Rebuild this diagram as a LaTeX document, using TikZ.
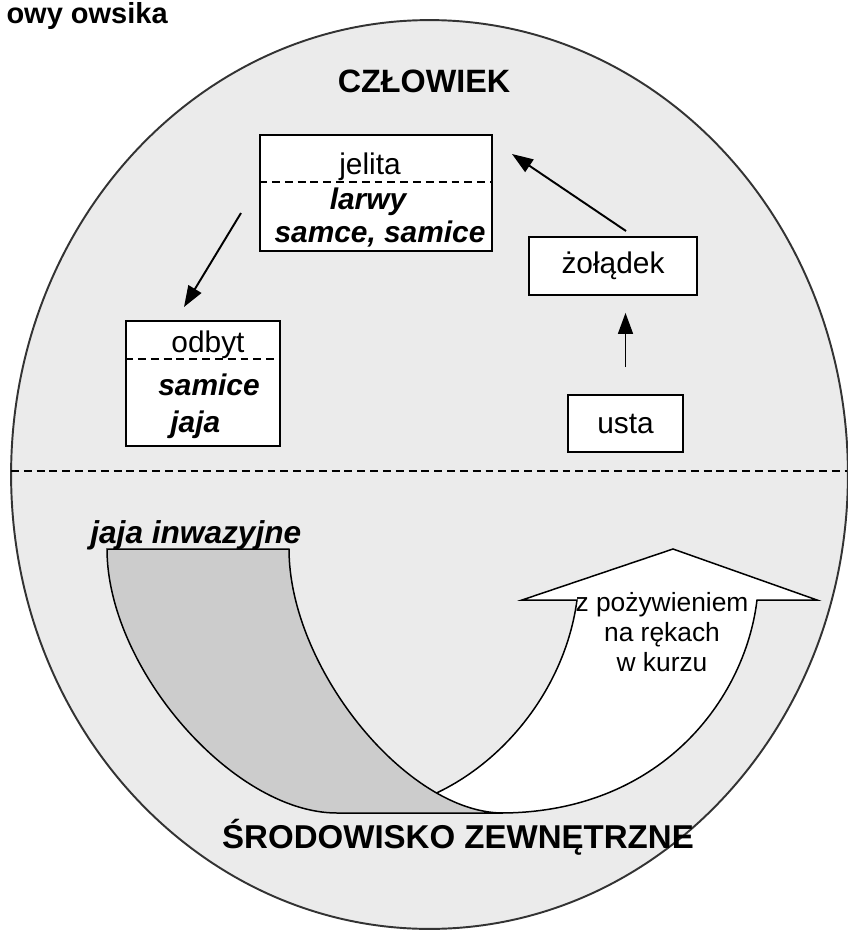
\documentclass[tikz,border=0pt]{standalone}
\usepackage{fontspec}
\setmainfont{Liberation Sans}
\usetikzlibrary{arrows.meta}
\definecolor{ovalgray}{gray}{0.92}
\definecolor{bandgray}{gray}{0.8}
\tikzset{
  box/.style={draw, fill=white, line width=1pt, inner sep=0pt},
  arr/.style={line width=1.1pt, -{Triangle[length=12pt, width=8.5pt]}},
  divider/.style={dash pattern=on 4.5pt off 2.8pt, line width=0.8pt},
  flow/.style={draw, line width=0.85pt},
  boxtext/.style={inner sep=0pt, font=\fontsize{17}{20}\selectfont},
  bigtext/.style={inner sep=0pt, font=\fontsize{18.4}{22}\selectfont\bfseries},
}

\begin{document}
\begin{tikzpicture}[x=0.02cm, y=-0.02cm]
  \useasboundingbox (0,0) rectangle (848,930);

  \node[bigtext, font=\fontsize{16.5}{20}\selectfont\bfseries, anchor=base east] (title) at (168,23) {owy owsika};

  % human / environment
  \draw[fill=ovalgray, draw=black!80, line width=1.1pt] (429.5,474.5) ellipse [x radius=8.37cm, y radius=9.09cm];
  \draw[divider] (11,471) -- (847,471);
  \node[bigtext, anchor=base] (czlowiek) at (424,92) {CZŁOWIEK};
  \node[bigtext, font=\fontsize{18.8}{22}\selectfont\bfseries, anchor=base] (srodowisko) at (458,848) {ŚRODOWISKO ZEWNĘTRZNE};

  % boxes
  \node[box, minimum width=4.64cm, minimum height=2.32cm] (jelita) at (376,193) {};
  \draw[divider] (jelita.west |- 0,182) -- (jelita.east |- 0,182);
  \node[boxtext, anchor=base] (jelitatxt) at (370,174) {jelita};
  \node[boxtext, anchor=base, font=\fontsize{17}{20}\selectfont\bfseries\itshape] (larwy) at (368,209) {larwy};
  \node[boxtext, anchor=base, font=\fontsize{17}{20}\selectfont\bfseries\itshape] (samce) at (380,242) {samce, samice};

  \node[box, minimum width=3.08cm, minimum height=2.5cm] (odbyt) at (203,383.5) {};
  \draw[divider] (odbyt.west |- 0,359) -- (odbyt.east |- 0,359);
  \node[boxtext, anchor=base] (odbyttxt) at (208,352) {odbyt};
  \node[boxtext, anchor=base west, font=\fontsize{17}{20}\selectfont\bfseries\itshape] (samice) at (158,395) {samice};
  \node[boxtext, anchor=base west, font=\fontsize{17}{20}\selectfont\bfseries\itshape] (jaja) at (170,432) {jaja};

  \node[box, boxtext, minimum width=3.36cm, minimum height=1.16cm] (zoladek) at (613,266) {żołądek};
  \node[box, boxtext, minimum width=2.3cm, minimum height=1.14cm] (usta) at (625.5,423.5) {usta};

  \coordinate (z1) at (626,231);
  \coordinate (j1) at (512,154);
  \coordinate (j2) at (241,213);
  \coordinate (o1) at (184,307);
  \draw[arr, shorten <=0.54cm, shorten >=0.34cm] (usta.north) -- (usta.north |- zoladek.south);
  \draw[arr] (z1) -- (j1);
  \draw[arr] (j2) -- (o1);

  % curved arrows
  \draw[flow, fill=white] (577,600) -- (522,600) -- (673,549) -- (817,600) -- (757,600)
    .. controls (745,700) and (660,813) .. (500,813) -- (420,813) -- (420,800)
    .. controls (500,770) and (565,690) .. (577,600) -- cycle;
  \draw[flow, fill=bandgray] (107,549) -- (289,549) .. controls (289,668) and (407,813) .. (503,813)
    -- (337,813) .. controls (233,813) and (107,668) .. (107,549) -- cycle;
  \node[boxtext, anchor=base west, font=\fontsize{18}{20}\selectfont\bfseries\itshape] (inwazyjne) at (90,543) {jaja inwazyjne};
  \node[boxtext, anchor=north, align=center, font=\fontsize{15}{17}\selectfont] (droga) at (662,592) {z pożywieniem\\na rękach\\w kurzu};
\end{tikzpicture}
\end{document}
